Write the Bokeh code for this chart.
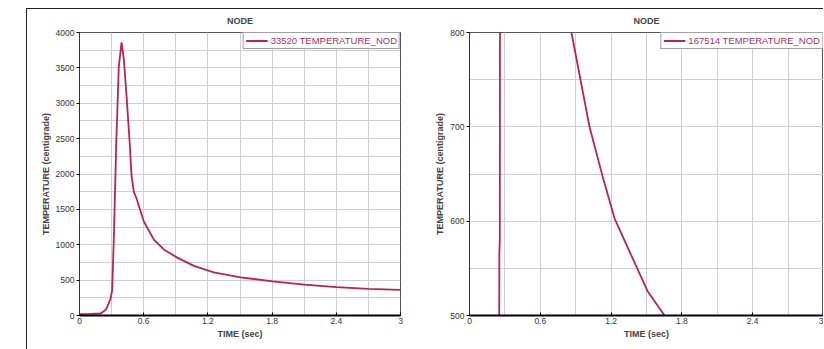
from bokeh.plotting import figure
from bokeh.layouts import row
from bokeh.models import Range1d, FixedTicker
from bokeh.embed import file_html
from bokeh.resources import INLINE

# ---- data ----
time_a = [0, 0.1, 0.196, 0.224, 0.25, 0.29, 0.305, 0.32, 0.336, 0.343, 0.352, 0.367, 0.393,
          0.414, 0.439, 0.47, 0.486, 0.508, 0.533, 0.601, 0.695, 0.788, 0.913, 1.069,
          1.255, 1.505, 1.804, 2.103, 2.402, 2.70, 3.0]
temp_a = [20, 22, 28, 56, 90, 237, 353, 1050, 1979, 2420, 2815, 3512, 3860,
          3628, 3118, 2420, 1979, 1747, 1654, 1329, 1073, 934, 818, 702,
          609, 540, 483, 437, 400, 376, 362]

time_b = [0, 0.2, 0.251, 0.253, 0.257, 0.259, 0.4, 0.6, 0.864, 1.017, 1.127, 1.229,
          1.508, 1.653, 2.0, 3.0]
temp_b = [20, 40, 450, 566, 580, 900, 2200, 1200, 800, 700, 648, 603,
          526, 500, 455, 380]

title_text = "NODE"
label_a = "33520 TEMPERATURE_NOD"
label_b = "167514 TEMPERATURE_NOD"

x_ticks = [0, 0.6, 1.2, 1.8, 2.4, 3.0]
x_tick_labels = ["0", "0.6", "1.2", "1.8", "2.4", "3"]
x_grid = [0, 0.3, 0.6, 0.9, 1.2, 1.5, 1.8, 2.1, 2.4, 2.7, 3.0]
y_ticks_a = [0, 500, 1000, 1500, 2000, 2500, 3000, 3500, 4000]
y_grid_a = [0, 250, 500, 750, 1000, 1250, 1500, 1750, 2000, 2250, 2500, 2750,
            3000, 3250, 3500, 3750, 4000]
y_ticks_b = [500, 600, 700, 800]
y_grid_b = [500, 550, 600, 650, 700, 750, 800]

LINE = "#b8234f"
FONT = "Liberation Sans"


def make(width, height, yr, yt, yg, xs, ys, label, mb):
    p = figure(width=width, height=height, output_backend="svg", toolbar_location=None,
               x_range=Range1d(0, 3), y_range=Range1d(*yr),
               min_border_left=mb[0], min_border_right=mb[1],
               min_border_top=mb[2], min_border_bottom=mb[3])
    p.title.text = title_text
    p.title.align = "center"
    p.title.vertical_align = "top"
    p.title.text_font = FONT
    p.title.text_font_size = "9px"
    p.title.text_font_style = "bold"
    p.title.text_line_height = 0.8
    p.title.standoff = 10
    p.title.offset = 0
    p.outline_line_color = "#555555"
    p.outline_line_width = 1
    p.background_fill_color = "white"

    p.xaxis.ticker = FixedTicker(ticks=x_ticks)
    p.xaxis.major_label_overrides = {t: l for t, l in zip(x_ticks, x_tick_labels)}
    p.yaxis.ticker = FixedTicker(ticks=yt)
    p.xgrid.ticker = FixedTicker(ticks=x_grid)
    p.ygrid.ticker = FixedTicker(ticks=yg)
    for g in (p.xgrid, p.ygrid):
        g.grid_line_color = "#cfcfcf"
        g.grid_line_width = 1

    p.xaxis.axis_label = "TIME (sec)"
    p.yaxis.axis_label = "TEMPERATURE (centigrade)"
    for ax in (p.xaxis, p.yaxis):
        ax.axis_label_text_font = FONT
        ax.axis_label_text_font_size = "9px"
        ax.axis_label_text_font_style = "bold"
        ax.axis_label_standoff = 2
        ax.major_label_text_font = FONT
        ax.major_label_text_font_size = "8.5px"
        ax.major_label_text_color = "#333333"
        ax.major_label_standoff = 2
        ax.minor_tick_line_color = None
    p.xaxis.axis_line_color = "black"
    p.xaxis.axis_line_width = 2
    p.xaxis.major_tick_in = 3
    p.xaxis.major_tick_out = 0
    p.yaxis.axis_line_color = "#333333"
    p.yaxis.major_tick_in = 0
    p.yaxis.major_tick_out = 3

    p.line(xs, ys, line_color=LINE, line_width=1.8, legend_label=label)
    lg = p.legend[0]
    lg.location = "top_right"
    lg.margin = 0
    lg.padding = 2
    lg.spacing = 0
    lg.border_line_color = "#444444"
    lg.border_line_width = 1
    lg.background_fill_alpha = 1
    lg.label_text_font = FONT
    lg.label_text_font_size = "9.5px"
    lg.label_text_color = "#a3335f"
    lg.glyph_width = 22
    lg.glyph_height = 11
    lg.label_height = 11
    lg.label_standoff = 3
    return p


p1 = make(385, 340, (0, 4000), y_ticks_a, y_grid_a, time_a, temp_a, label_a, (52, 12, 21, 32))
p2 = make(411, 340, (500, 800), y_ticks_b, y_grid_b, time_b, temp_b, label_b, (57, 0, 23, 34))

layout = row(p1, p2, margin=(8, 0, 0, 26),
             styles={"border-top": "1px solid #222222", "border-left": "1px solid #222222"})

open("out.html", "w").write(file_html(layout, INLINE))
